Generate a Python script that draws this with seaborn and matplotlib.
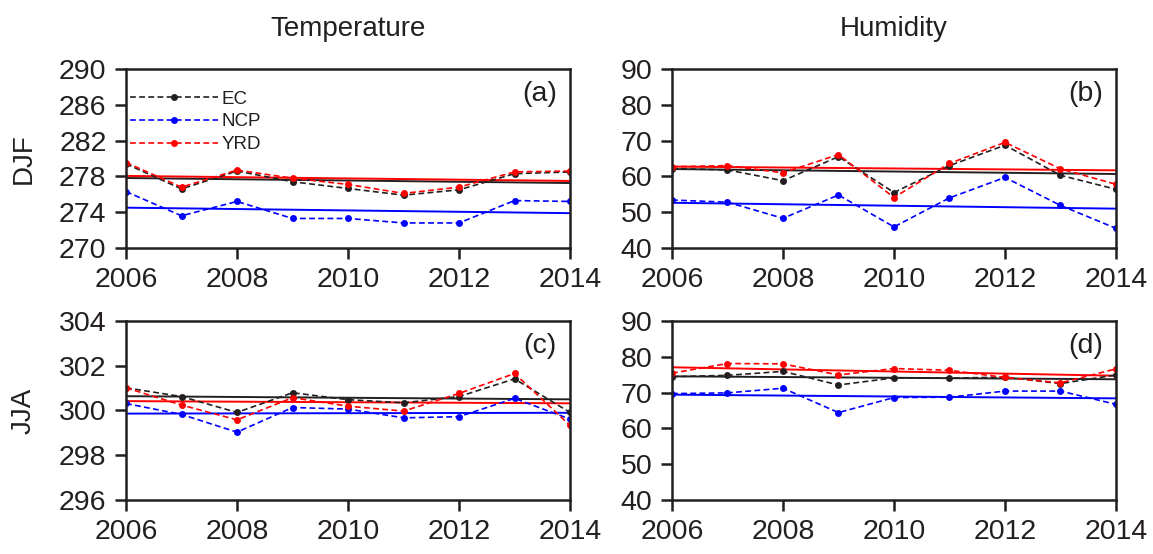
import numpy as np
import pandas as pd
import matplotlib
matplotlib.use("Agg")
import matplotlib.pyplot as plt
from matplotlib.lines import Line2D
import seaborn as sns

years = [2006, 2007, 2008, 2009, 2010, 2011, 2012, 2013, 2014]
regions = ["EC", "NCP", "YRD"]

# DJF temperature (K)
djf_t_ec = [279.4, 276.6, 278.6, 277.4, 276.65, 275.9, 276.5, 278.3, 278.5]
djf_t_ncp = [276.3, 273.6, 275.2, 273.3, 273.3, 272.8, 272.8, 275.3, 275.2]
djf_t_yrd = [279.55, 276.8, 278.7, 277.8, 277.1, 276.1, 276.8, 278.5, 278.6]
# DJF humidity (%)
djf_h_ec = [62.2, 61.8, 58.8, 65.5, 55.5, 63.0, 68.7, 60.3, 56.4]
djf_h_ncp = [53.4, 52.8, 48.3, 54.8, 45.9, 54.0, 59.7, 51.9, 45.5]
djf_h_yrd = [62.7, 63.0, 61.0, 66.1, 54.1, 63.6, 69.5, 62.1, 57.8]
# JJA temperature (K)
jja_t_ec = [301.01, 300.62, 299.91, 300.79, 300.48, 300.34, 300.62, 301.41, 299.91]
jja_t_ncp = [300.31, 299.82, 299.03, 300.13, 300.06, 299.67, 299.72, 300.54, 299.61]
jja_t_yrd = [301.01, 300.24, 299.58, 300.57, 300.19, 299.97, 300.76, 301.65, 299.33]
# JJA humidity (%)
jja_h_ec = [74.4, 74.8, 75.9, 72.1, 74.1, 74.0, 74.3, 72.5, 74.9]
jja_h_ncp = [69.7, 69.9, 71.2, 64.4, 68.6, 68.7, 70.4, 70.4, 66.7]
jja_h_yrd = [75.4, 78.1, 78.0, 74.9, 76.7, 76.2, 74.2, 72.7, 76.6]

col_titles = ["Temperature", "Humidity"]
row_titles = ["DJF", "JJA"]
panel_labels = ["(a)", "(b)", "(c)", "(d)"]
t_ticks_djf = [270, 274, 278, 282, 286, 290]
h_ticks = [40, 50, 60, 70, 80, 90]
t_ticks_jja = [296, 298, 300, 302, 304]
x_ticks = [2006, 2008, 2010, 2012, 2014]

panels = [
    (djf_t_ec, djf_t_ncp, djf_t_yrd, t_ticks_djf),
    (djf_h_ec, djf_h_ncp, djf_h_yrd, h_ticks),
    (jja_t_ec, jja_t_ncp, jja_t_yrd, t_ticks_jja),
    (jja_h_ec, jja_h_ncp, jja_h_yrd, h_ticks),
]

sns.set_theme(style="ticks")
plt.rcParams["font.family"] = ["Liberation Sans", "DejaVu Sans"]
axcol = "#231f20"
plt.rcParams.update({
    "axes.edgecolor": axcol, "xtick.color": axcol, "ytick.color": axcol,
    "text.color": axcol, "axes.labelcolor": axcol,
})
colors = {"EC": axcol, "NCP": "#0000ff", "YRD": "#ff0000"}
dash = (0, (3.5, 2.0))

fig = plt.figure(figsize=(11.53, 5.54), dpi=100)
lefts = [0.1093, 0.5828]
bottoms = [0.5523, 0.0975]
W, H = 0.3851, 0.3233

for i, (ec, ncp, yrd, yt) in enumerate(panels):
    r, c = divmod(i, 2)
    ax = fig.add_axes([lefts[c], bottoms[r], W, H])
    df = pd.DataFrame({
        "year": years * 3,
        "value": ec + ncp + yrd,
        "region": [g for g in regions for _ in years],
    })
    for reg in regions:
        sub = df[df.region == reg]
        sns.regplot(data=sub, x="year", y="value", scatter=False, ci=None,
                    color=colors[reg], line_kws={"lw": 1.4, "ls": "-"}, ax=ax,
                    truncate=True)
    for reg in regions:
        sub = df[df.region == reg]
        sns.lineplot(data=sub, x="year", y="value", color=colors[reg],
                     ls=dash, lw=1.2, marker="o", markersize=5,
                     markeredgewidth=0, ax=ax, legend=False)
    ax.set_xlim(2006, 2014)
    ax.set_ylim(yt[0], yt[-1])
    ax.set_xticks(x_ticks)
    ax.set_yticks(yt)
    ax.set_xlabel("")
    ax.set_ylabel("")
    ax.tick_params(labelsize=20.5, length=8, width=1.8, direction="out", pad=6)
    for s in ax.spines.values():
        s.set_linewidth(1.8)
        s.set_visible(True)
    ax.text(0.97, 0.93, panel_labels[i], transform=ax.transAxes,
            ha="right", va="top", fontsize=20.5)
    if r == 0:
        ax.set_title(col_titles[c], fontsize=20, pad=24)
    if c == 0:
        ax.set_ylabel(row_titles[r], fontsize=20, labelpad=16)
    if i == 0:
        handles = [Line2D([], [], color=colors[g], ls=dash, lw=1.2,
                          marker="o", markersize=5, markeredgewidth=0)
                   for g in regions]
        ax.legend(handles, regions, loc="upper left", frameon=False,
                  fontsize=13.5, handlelength=4.7, handletextpad=0.2,
                  labelspacing=0.3, borderaxespad=0.0, borderpad=0.2,
                  bbox_to_anchor=(0.0, 0.9))

fig.savefig("out.png", dpi=100)
